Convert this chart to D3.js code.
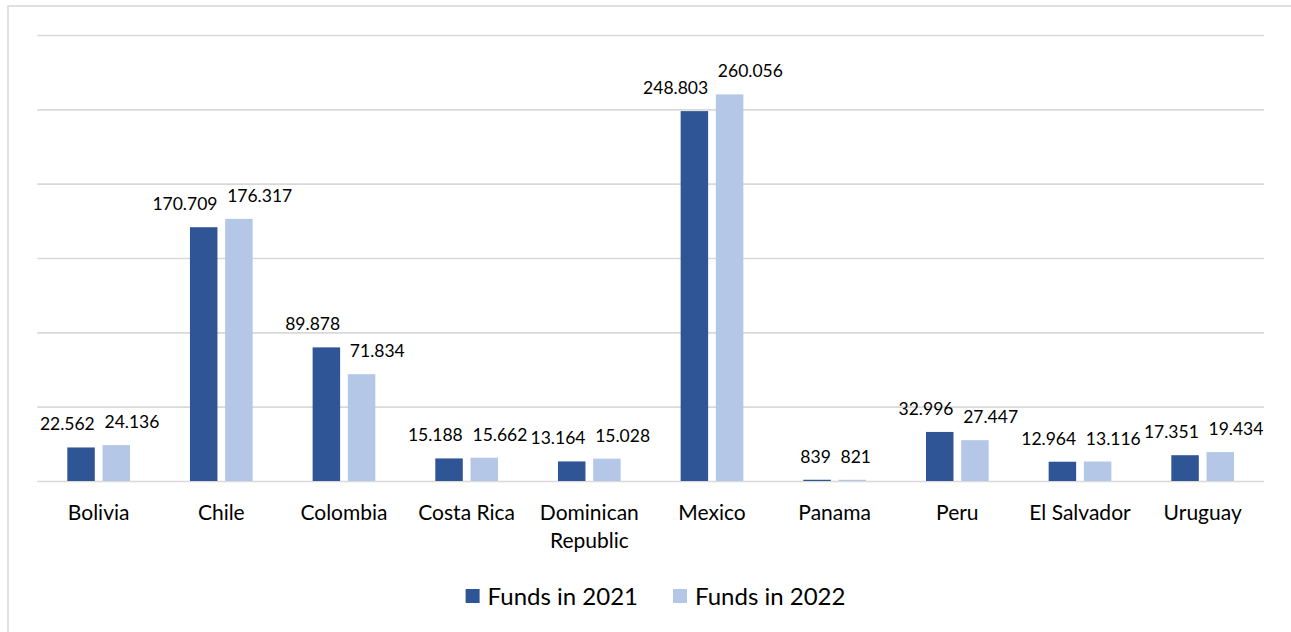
<!DOCTYPE html>
<html>
<head>
<meta charset="utf-8">
<script src="https://cdn.jsdelivr.net/npm/d3@7/dist/d3.min.js"></script>
<style>
  html, body { margin: 0; padding: 0; background: #fff; }
  svg { display: block; }
  text { font-family: Lato, "Open Sans", sans-serif; fill: #000; }
</style>
</head>
<body>
<svg id="chart" width="1291" height="632"></svg>
<script>
const categories = ["Bolivia", "Chile", "Colombia", "Costa Rica", "Dominican Republic", "Mexico", "Panama", "Peru", "El Salvador", "Uruguay"];
const seriesNames = ["Funds in 2021", "Funds in 2022"];
const funds2021 = [22.562, 170.709, 89.878, 15.188, 13.164, 248.803, 0.839, 32.996, 12.964, 17.351];
const funds2022 = [24.136, 176.317, 71.834, 15.662, 15.028, 260.056, 0.821, 27.447, 13.116, 19.434];
const labels2021 = ["22.562", "170.709", "89.878", "15.188", "13.164", "248.803", "839", "32.996", "12.964", "17.351"];
const labels2022 = ["24.136", "176.317", "71.834", "15.662", "15.028", "260.056", "821", "27.447", "13.116", "19.434"];
const yTicks = [0, 50, 100, 150, 200, 250, 300];

const colors = ["#2F5597", "#B4C7E7"];
const W = 1291, H = 632;
const plot = { left: 37.3, right: 1264, top: 35, bottom: 481 };

const svg = d3.select("#chart");

// outer chart border
svg.append("rect")
  .attr("x", 8).attr("y", 6)
  .attr("width", W + 20).attr("height", H + 20)
  .attr("fill", "#fff")
  .attr("stroke", "#d9d9d9").attr("stroke-width", 1.6);

const x0 = d3.scaleBand().domain(categories).range([plot.left, plot.right]).padding(0);
const x1 = d3.scaleBand().domain(seriesNames).range([0, x0.bandwidth()])
  .paddingInner(0.219).paddingOuter(0.852);
const y = d3.scaleLinear().domain([0, 300]).range([plot.bottom, plot.top]);

// gridlines
const yAxis = d3.axisLeft(y).tickValues(yTicks).tickSize(-(plot.right - plot.left)).tickFormat("");
const gy = svg.append("g").attr("transform", `translate(${plot.left},0)`).call(yAxis);
gy.select(".domain").remove();
gy.selectAll(".tick line").attr("stroke", "#d9d9d9").attr("stroke-width", 1.6);

const data = categories.map((c, i) => ({
  cat: c,
  vals: [
    { s: seriesNames[0], v: funds2021[i], lab: labels2021[i], k: 0 },
    { s: seriesNames[1], v: funds2022[i], lab: labels2022[i], k: 1 }
  ]
}));

const groups = svg.append("g").selectAll("g").data(data).join("g")
  .attr("transform", d => `translate(${x0(d.cat)},0)`);

groups.selectAll("rect").data(d => d.vals).join("rect")
  .attr("x", d => x1(d.s))
  .attr("y", d => y(d.v))
  .attr("width", x1.bandwidth())
  .attr("height", d => y(0) - y(d.v))
  .attr("fill", d => colors[d.k]);

// data labels: 2021 right-aligned to its bar, 2022 left-aligned to its bar
const labs = groups.selectAll("text.lab").data(d => d.vals).join("text")
  .attr("class", "lab")
  .attr("x", d => d.k === 0 ? x1(d.s) + x1.bandwidth() : x1(d.s) + 2)
  .attr("y", d => y(d.v) - 17)
  .attr("text-anchor", d => d.k === 0 ? "end" : "start")
  .attr("font-size", 17.5)
  .text(d => d.lab);

// overlap avoidance: lift a label above any earlier label it truly collides with
const placed = [];
labs.each(function() {
  const g = this.parentNode.transform.baseVal.consolidate().matrix;
  const b = this.getBBox();
  const box = { x: b.x + g.e, y: b.y, w: b.width, h: b.height };
  let moved = true;
  while (moved) {
    moved = false;
    for (const p of placed) {
      if (box.x < p.x + p.w - 1 && box.x + box.w - 1 > p.x && box.y < p.y + p.h - 1 && box.y + box.h - 1 > p.y) {
        const dy = (box.y + box.h) - p.y + 1;
        box.y -= dy;
        d3.select(this).attr("y", +d3.select(this).attr("y") - dy);
        moved = true;
      }
    }
  }
  placed.push(box);
});

// category axis labels
const xAxis = d3.axisBottom(x0).tickSize(0).tickPadding(0);
const gx = svg.append("g").attr("transform", `translate(0,${plot.bottom})`).call(xAxis);
gx.select(".domain").remove();
gx.selectAll(".tick text")
  .attr("font-size", 21)
  .attr("font-family", "Lato, 'Open Sans', sans-serif")
  .attr("fill", "#000")
  .attr("dy", null)
  .attr("y", 39)
  .each(function(d) {
    const t = d3.select(this);
    const words = d.split(" ");
    t.text(d);
    if (this.getComputedTextLength() > x0.bandwidth() - 4 && words.length > 1) {
      t.text(null);
      const lines = [];
      let cur = [];
      words.forEach(w => {
        cur.push(w);
        t.text(cur.join(" "));
        if (this.getComputedTextLength() > x0.bandwidth() - 4 && cur.length > 1) {
          cur.pop();
          lines.push(cur.join(" "));
          cur = [w];
        }
      });
      lines.push(cur.join(" "));
      t.text(null);
      lines.forEach((ln, i) => {
        t.append("tspan").attr("x", 0).attr("y", 39 + i * 28).text(ln);
      });
    }
  });

// legend
const legend = svg.append("g");
const items = legend.selectAll("g").data(seriesNames).join("g");
items.append("rect").attr("width", 14).attr("height", 14).attr("y", -16)
  .attr("fill", (d, i) => colors[i]);
items.append("text").attr("x", 22).attr("y", 0).attr("font-size", 24).text(d => d);
let xpos = 0;
items.each(function() {
  const w = this.getBBox().width;
  d3.select(this).attr("transform", `translate(${xpos},0)`);
  xpos += w + 35;
});
const totalW = xpos - 35;
legend.attr("transform", `translate(${655.5 - totalW / 2},605)`);
</script>
</body>
</html>
